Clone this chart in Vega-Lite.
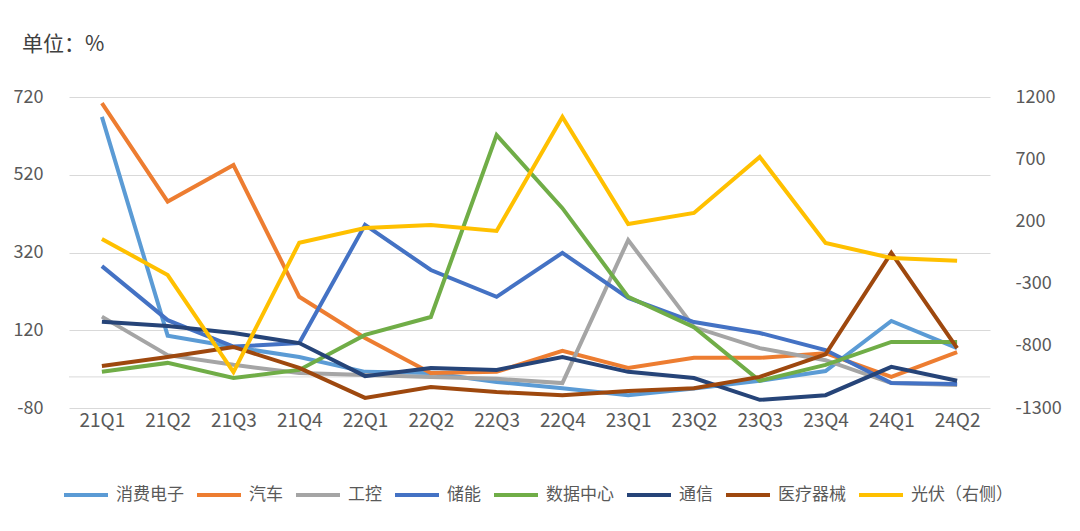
{
  "$schema": "https://vega.github.io/schema/vega-lite/v6.json",
  "width": 921,
  "height": 311,
  "autosize": {"type": "none"},
  "padding": {"left": 69, "top": 97, "right": 90, "bottom": 123},
  "background": "white",
  "config": {"view": {"stroke": null}, "font": "Noto Sans CJK SC"},
  "title": {"text": "单位：%", "anchor": "start", "frame": "group", "dx": -47, "offset": 33, "fontSize": 21, "fontWeight": "normal", "color": "#404040", "font": "Noto Sans CJK SC"},
  "data": {"values": [
    {"q":"21Q1","s":"消费电子","v":669},{"q":"21Q2","s":"消费电子","v":106},{"q":"21Q3","s":"消费电子","v":77},{"q":"21Q4","s":"消费电子","v":51},{"q":"22Q1","s":"消费电子","v":13},{"q":"22Q2","s":"消费电子","v":10},{"q":"22Q3","s":"消费电子","v":-13},{"q":"22Q4","s":"消费电子","v":-29},{"q":"23Q1","s":"消费电子","v":-47},{"q":"23Q2","s":"消费电子","v":-30},{"q":"23Q3","s":"消费电子","v":-10},{"q":"23Q4","s":"消费电子","v":15},{"q":"24Q1","s":"消费电子","v":144},{"q":"24Q2","s":"消费电子","v":74},
    {"q":"21Q1","s":"汽车","v":704},{"q":"21Q2","s":"汽车","v":451},{"q":"21Q3","s":"汽车","v":545},{"q":"21Q4","s":"汽车","v":206},{"q":"22Q1","s":"汽车","v":100},{"q":"22Q2","s":"汽车","v":10},{"q":"22Q3","s":"汽车","v":13},{"q":"22Q4","s":"汽车","v":67},{"q":"23Q1","s":"汽车","v":23},{"q":"23Q2","s":"汽车","v":49},{"q":"23Q3","s":"汽车","v":49},{"q":"23Q4","s":"汽车","v":61},{"q":"24Q1","s":"汽车","v":0},{"q":"24Q2","s":"汽车","v":64},
    {"q":"21Q1","s":"工控","v":155},{"q":"21Q2","s":"工控","v":56},{"q":"21Q3","s":"工控","v":31},{"q":"21Q4","s":"工控","v":10},{"q":"22Q1","s":"工控","v":5},{"q":"22Q2","s":"工控","v":0},{"q":"22Q3","s":"工控","v":-5},{"q":"22Q4","s":"工控","v":-16},{"q":"23Q1","s":"工控","v":352},{"q":"23Q2","s":"工控","v":128},{"q":"23Q3","s":"工控","v":74},{"q":"23Q4","s":"工控","v":43},{"q":"24Q1","s":"工控","v":-16},{"q":"24Q2","s":"工控","v":-21},
    {"q":"21Q1","s":"储能","v":285},{"q":"21Q2","s":"储能","v":146},{"q":"21Q3","s":"储能","v":78},{"q":"21Q4","s":"储能","v":87},{"q":"22Q1","s":"储能","v":391},{"q":"22Q2","s":"储能","v":275},{"q":"22Q3","s":"储能","v":206},{"q":"22Q4","s":"储能","v":319},{"q":"23Q1","s":"储能","v":203},{"q":"23Q2","s":"储能","v":141},{"q":"23Q3","s":"储能","v":113},{"q":"23Q4","s":"储能","v":69},{"q":"24Q1","s":"储能","v":-16},{"q":"24Q2","s":"储能","v":-18},
    {"q":"21Q1","s":"数据中心","v":13},{"q":"21Q2","s":"数据中心","v":36},{"q":"21Q3","s":"数据中心","v":-3},{"q":"21Q4","s":"数据中心","v":18},{"q":"22Q1","s":"数据中心","v":108},{"q":"22Q2","s":"数据中心","v":154},{"q":"22Q3","s":"数据中心","v":622},{"q":"22Q4","s":"数据中心","v":434},{"q":"23Q1","s":"数据中心","v":206},{"q":"23Q2","s":"数据中心","v":128},{"q":"23Q3","s":"数据中心","v":-10},{"q":"23Q4","s":"数据中心","v":31},{"q":"24Q1","s":"数据中心","v":90},{"q":"24Q2","s":"数据中心","v":90},
    {"q":"21Q1","s":"通信","v":142},{"q":"21Q2","s":"通信","v":131},{"q":"21Q3","s":"通信","v":113},{"q":"21Q4","s":"通信","v":87},{"q":"22Q1","s":"通信","v":2},{"q":"22Q2","s":"通信","v":23},{"q":"22Q3","s":"通信","v":18},{"q":"22Q4","s":"通信","v":51},{"q":"23Q1","s":"通信","v":13},{"q":"23Q2","s":"通信","v":-3},{"q":"23Q3","s":"通信","v":-59},{"q":"23Q4","s":"通信","v":-47},{"q":"24Q1","s":"通信","v":26},{"q":"24Q2","s":"通信","v":-10},
    {"q":"21Q1","s":"医疗器械","v":28},{"q":"21Q2","s":"医疗器械","v":51},{"q":"21Q3","s":"医疗器械","v":77},{"q":"21Q4","s":"医疗器械","v":23},{"q":"22Q1","s":"医疗器械","v":-54},{"q":"22Q2","s":"医疗器械","v":-26},{"q":"22Q3","s":"医疗器械","v":-39},{"q":"22Q4","s":"医疗器械","v":-47},{"q":"23Q1","s":"医疗器械","v":-36},{"q":"23Q2","s":"医疗器械","v":-29},{"q":"23Q3","s":"医疗器械","v":0},{"q":"23Q4","s":"医疗器械","v":58},{"q":"24Q1","s":"医疗器械","v":319},{"q":"24Q2","s":"医疗器械","v":74},
    {"q":"21Q1","s":"光伏（右侧）","v":59},{"q":"21Q2","s":"光伏（右侧）","v":-231},{"q":"21Q3","s":"光伏（右侧）","v":-1011},{"q":"21Q4","s":"光伏（右侧）","v":28},{"q":"22Q1","s":"光伏（右侧）","v":147},{"q":"22Q2","s":"光伏（右侧）","v":171},{"q":"22Q3","s":"光伏（右侧）","v":123},{"q":"22Q4","s":"光伏（右侧）","v":1039},{"q":"23Q1","s":"光伏（右侧）","v":179},{"q":"23Q2","s":"光伏（右侧）","v":268},{"q":"23Q3","s":"光伏（右侧）","v":718},{"q":"23Q4","s":"光伏（右侧）","v":26},{"q":"24Q1","s":"光伏（右侧）","v":-94},{"q":"24Q2","s":"光伏（右侧）","v":-116}
  ]},
  "encoding": {
    "x": {"field": "q", "type": "ordinal", "sort": null, "scale": {"type": "point", "padding": 0.5},
      "axis": {"title": null, "domain": false, "ticks": false, "labelAngle": 0, "labelFontSize": 19, "labelColor": "#595959", "labelPadding": 3, "grid": false}}
  },
  "layer": [
    {
      "layer": [
        {
          "data": {"values": [{"z": 0}]},
          "mark": {"type": "rule", "color": "#D9D9D9", "strokeWidth": 1},
          "encoding": {"x": null, "y": {"field": "z", "type": "quantitative"}}
        },
        {
          "transform": [{"filter": "datum.s !== '光伏（右侧）'"}],
          "mark": {"type": "line", "strokeWidth": 4},
          "encoding": {
            "y": {"field": "v", "type": "quantitative",
              "scale": {"domain": [-80, 720], "nice": false, "zero": false},
              "axis": {"values": [-80, 120, 320, 520, 720], "labelExpr": "'' + datum.value", "title": null, "domain": false, "ticks": false, "grid": true, "gridColor": "#D9D9D9", "gridWidth": 1, "labelFontSize": 18, "labelColor": "#595959", "labelPadding": 26}},
            "color": {"field": "s", "type": "nominal",
              "scale": {"domain": ["消费电子", "汽车", "工控", "储能", "数据中心", "通信", "医疗器械", "光伏（右侧）"], "range": ["#5B9BD5", "#ED7D31", "#A5A5A5", "#4472C4", "#70AD47", "#264478", "#9E480E", "#FFC000"]},
              "legend": {"title": null, "orient": "none", "legendX": -7, "legendY": 374, "direction": "horizontal", "symbolType": "stroke", "symbolSize": 1936, "symbolStrokeWidth": 4, "labelFontSize": 17, "labelColor": "#595959", "labelOffset": 6, "columnPadding": 5, "labelLimit": 200}}
          }
        }
      ]
    },
    {
      "transform": [{"filter": "datum.s === '光伏（右侧）'"}],
      "mark": {"type": "line", "strokeWidth": 4},
      "encoding": {
        "y": {"field": "v", "type": "quantitative",
          "scale": {"domain": [-1300, 1200], "nice": false, "zero": false},
          "axis": {"orient": "right", "values": [-1300, -800, -300, 200, 700, 1200], "labelExpr": "'' + datum.value", "title": null, "domain": false, "ticks": false, "grid": false, "labelFontSize": 18, "labelColor": "#595959", "labelPadding": 25}},
        "color": {"field": "s", "type": "nominal",
          "scale": {"domain": ["消费电子", "汽车", "工控", "储能", "数据中心", "通信", "医疗器械", "光伏（右侧）"], "range": ["#5B9BD5", "#ED7D31", "#A5A5A5", "#4472C4", "#70AD47", "#264478", "#9E480E", "#FFC000"]},
          "legend": {"title": null, "orient": "none", "legendX": -7, "legendY": 374, "direction": "horizontal", "symbolType": "stroke", "symbolSize": 1936, "symbolStrokeWidth": 4, "labelFontSize": 17, "labelColor": "#595959", "labelOffset": 6, "columnPadding": 5, "labelLimit": 200}}
      }
    }
  ],
  "resolve": {"scale": {"y": "independent"}}
}
